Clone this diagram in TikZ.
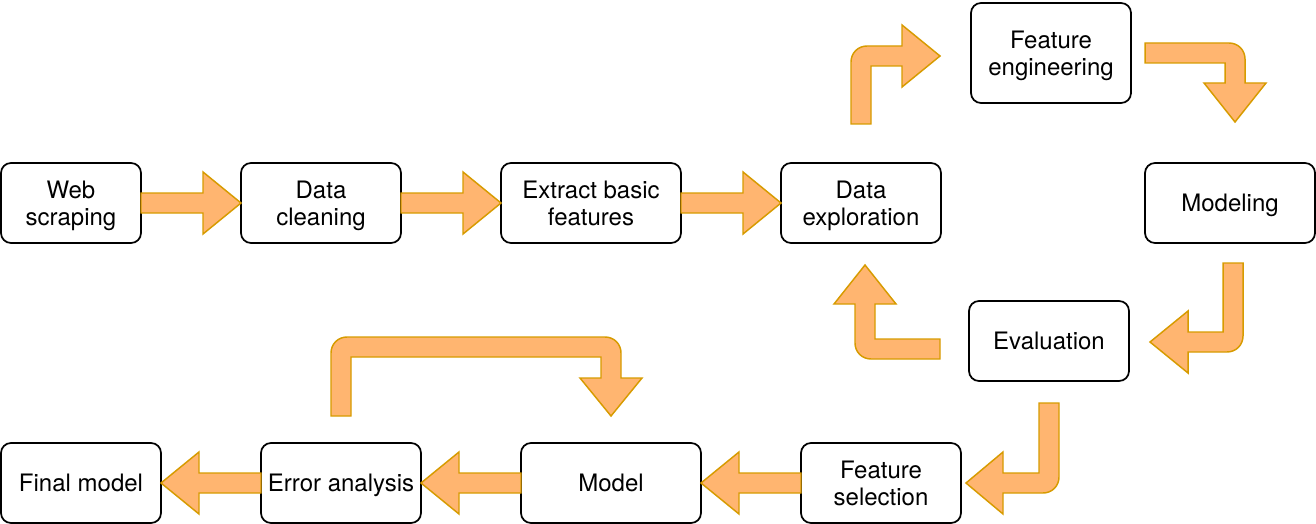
\documentclass[tikz,border=0pt]{standalone}
\usepackage{fontspec}
\setmainfont{TeX Gyre Heros}
\usepackage{xcolor}
\usepackage{tikz}
\usetikzlibrary{calc}

\definecolor{arrowfill}{HTML}{FFB570}
\definecolor{arrowline}{HTML}{D79B00}

\tikzset{
    procbox/.style={draw, line width=1.3pt, rounded corners=7.5pt, minimum height=60pt,
        inner sep=0pt, outer sep=0pt, align=center, text depth=0pt,
        font=\fontsize{18pt}{20.5pt}\selectfont},
    flowarrow/.style={fill=arrowfill, draw=arrowline, line width=1.1pt, line join=miter}
}

\begin{document}
\begin{tikzpicture}[x=0.75pt,y=0.75pt,yscale=-1,xscale=1]
        \useasboundingbox (0,0) rectangle (1316,524);

        \node[procbox, minimum width=105pt] (web) at (71,203) {Web\\scraping};
        \node[procbox, minimum width=120pt] (clean) at (321,203) {Data\\cleaning};
        \node[procbox, minimum width=135pt] (extract) at (591,203) {Extract basic\\features};
        \node[procbox, minimum width=120pt] (explore) at (861,203) {Data\\exploration};
        \node[procbox, minimum width=120pt, minimum height=75pt] (feateng) at (1051,53) {Feature\\engineering};
        \node[procbox, minimum width=127.5pt] (modeling) at (1230,203) {Modeling};
        \node[procbox, minimum width=120pt] (eval) at (1049,341) {Evaluation};
        \node[procbox, minimum width=120pt] (featsel) at (881,483) {Feature\\selection};
        \node[procbox, minimum width=135pt] (model) at (611,483) {Model};
        \node[procbox, minimum width=120pt] (error) at (341,483) {Error analysis};
        \node[procbox, minimum width=120pt] (final) at (81,483) {Final model};

        \draw[flowarrow] ($(web.east)+(0,-10)$) -- ($(clean.west)+(-38,-10)$) -- ++(0,-21) -- (clean.west) -- ++(-38,31) -- ++(0,-21) -- ($(web.east)+(0,10)$) -- cycle;
        \draw[flowarrow] ($(clean.east)+(0,-10)$) -- ($(extract.west)+(-38,-10)$) -- ++(0,-21) -- (extract.west) -- ++(-38,31) -- ++(0,-21) -- ($(clean.east)+(0,10)$) -- cycle;
        \draw[flowarrow] ($(extract.east)+(0,-10)$) -- ($(explore.west)+(-38,-10)$) -- ++(0,-21) -- (explore.west) -- ++(-38,31) -- ++(0,-21) -- ($(extract.east)+(0,10)$) -- cycle;

        \draw[flowarrow] ($(explore.north)+(-10,-39)$) -- ++(0,-62) .. controls +(0,-9) and +(-9,0) .. ++(16,-16) -- ++(35,0) -- ++(0,-21) -- ++(38,31) -- ++(-38,31) -- ++(0,-21) -- ++(-31,0) -- ++(0,58) -- cycle;
        \draw[flowarrow] ($(feateng.east)+(14,-10)$) -- ++(84,0) .. controls +(9,0) and +(0,-9) .. ++(16,16) -- ++(0,24) -- ++(21,0) -- ++(-31,39) -- ++(-31,-39) -- ++(21,0) -- ++(0,-20) -- ++(-80,0) -- cycle;
        \draw[flowarrow] ($(modeling.south)+(-7,20)$) -- ++(20,0) -- ++(0,73) .. controls +(0,9) and +(9,0) .. ++(-16,16) -- ++(-39,0) -- ++(0,21) -- ++(-38,-31) -- ++(38,-31) -- ++(0,21) -- ++(35,0) -- cycle;
        \draw[flowarrow] ($(eval.west)+(-29,-2)$) -- ++(-65,0) -- ++(0,-35) -- ++(21,0) -- ++(-31,-39) -- ++(-31,39) -- ++(21,0) -- ++(0,39) .. controls +(0,9) and +(-9,0) .. ++(16,16) -- ++(69,0) -- cycle;
        \draw[flowarrow] ($(eval.south)+(-10,22)$) -- ++(20,0) -- ++(0,74) .. controls +(0,9) and +(9,0) .. ++(-16,16) -- ++(-40,0) -- ++(0,21) -- ++(-37,-31) -- ++(37,-31) -- ++(0,21) -- ++(36,0) -- cycle;

        \draw[flowarrow] ($(featsel.west)+(0,-10)$) -- ($(model.east)+(38,-10)$) -- ++(0,-21) -- (model.east) -- ++(38,31) -- ++(0,-21) -- ($(featsel.west)+(0,10)$) -- cycle;
        \draw[flowarrow] ($(model.west)+(0,-10)$) -- ($(error.east)+(38,-10)$) -- ++(0,-21) -- (error.east) -- ++(38,31) -- ++(0,-21) -- ($(model.west)+(0,10)$) -- cycle;
        \draw[flowarrow] ($(error.west)+(0,-10)$) -- ($(final.east)+(38,-10)$) -- ++(0,-21) -- (final.east) -- ++(38,31) -- ++(0,-21) -- ($(error.west)+(0,10)$) -- cycle;

        \draw[flowarrow] ($(error.north)+(-10,-27)$) -- ++(0,-63) .. controls +(0,-9) and +(-9,0) .. ++(16,-16) -- ++(258,0) .. controls +(9,0) and +(0,-9) .. ++(16,16) -- ++(0,25) -- ++(21,0) -- ++(-31,38) -- ++(-31,-38) -- ++(21,0) -- ++(0,-21) -- ++(-250,0) -- ++(0,59) -- cycle;
\end{tikzpicture}
\end{document}
